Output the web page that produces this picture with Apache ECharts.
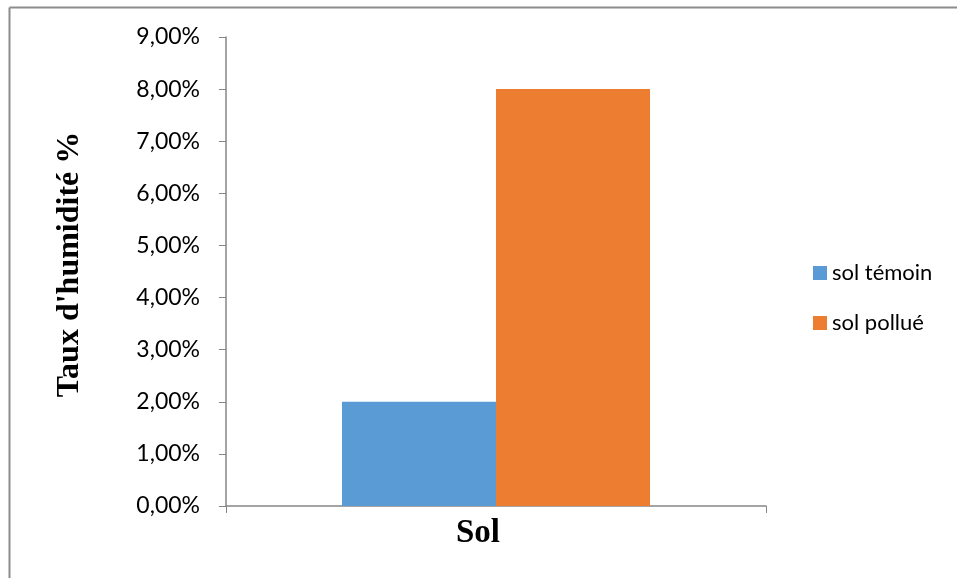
<!DOCTYPE html>
<html><head><meta charset="utf-8">
<script src="https://cdn.jsdelivr.net/npm/echarts@6/dist/echarts.min.js"></script>
<style>html,body{margin:0;padding:0;background:#fff}#c{width:957px;height:578px}</style>
</head><body><div id="c"></div>
<script>
const categories = ['Sol'];
const seriesNames = ['sol témoin', 'sol pollué'];
const temoinValues = [0.02];
const polluValues = [0.08];
const yTicks = [0, 0.01, 0.02, 0.03, 0.04, 0.05, 0.06, 0.07, 0.08, 0.09];

const chart = echarts.init(document.getElementById('c'), null, {renderer: 'canvas'});
const fmt = v => (v * 100).toFixed(2).replace('.', ',') + '%';
chart.setOption({
  animation: false,
  backgroundColor: '#fff',
  grid: {left: 226, right: 191, top: 37, bottom: 72, containLabel: false},
  legend: {
    orient: 'vertical', left: 808, top: 257, itemWidth: 14, itemHeight: 14, itemGap: 28,
    icon: 'rect',
    textStyle: {fontFamily: 'Lato', fontSize: 22, color: '#000'},
    data: seriesNames
  },
  xAxis: {
    type: 'category', data: categories,
    axisLine: {lineStyle: {color: '#868686', width: 1.5}},
    axisTick: {show: true, length: 7, alignWithLabel: false, lineStyle: {color: '#868686'}},
    axisLabel: {show: false}
  },
  yAxis: {
    type: 'value', min: 0, max: 0.09, interval: 0.01,
    name: "Taux d'humidité %", nameLocation: 'middle', nameGap: 140, nameRotate: 90,
    nameTextStyle: {fontFamily: 'Liberation Serif', fontWeight: 'bold', fontSize: 32, color: '#000', padding: [0, 0, 0, 14]},
    axisLine: {show: true, lineStyle: {color: '#868686', width: 1.5}},
    axisTick: {show: true, length: 7, lineStyle: {color: '#868686'}},
    splitLine: {show: false},
    axisLabel: {fontFamily: 'Lato', fontSize: 23, color: '#000', margin: 26, formatter: fmt}
  },
  series: [
    {name: seriesNames[0], type: 'bar', data: temoinValues, barWidth: 154, barGap: '0%', itemStyle: {color: '#5B9BD5'}},
    {name: seriesNames[1], type: 'bar', data: polluValues, barWidth: 154, barGap: '0%', itemStyle: {color: '#ED7D31'}}
  ],
  graphic: [
    {type: 'line', shape: {x1: 9.5, y1: 7.5, x2: 957, y2: 7.5}, style: {stroke: '#8c8c8c', lineWidth: 2}},
    {type: 'line', shape: {x1: 9.5, y1: 7.5, x2: 9.5, y2: 578}, style: {stroke: '#8c8c8c', lineWidth: 2}},
    {type: 'text', left: 456, top: 517, style: {text: categories[0], font: 'bold 33px "Liberation Serif"', fill: '#000'}}
  ]
});
</script></body></html>
